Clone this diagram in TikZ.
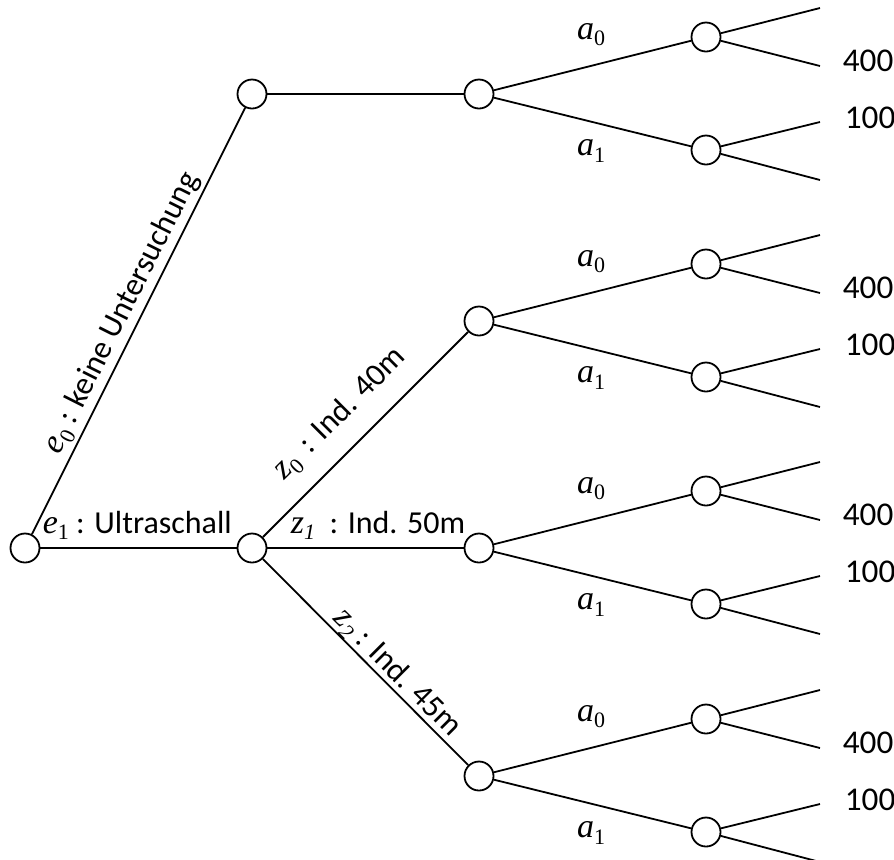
\documentclass[tikz,border=0pt]{standalone}
\usepackage{fontspec}
\setmainfont{Carlito}
\newfontfamily\tnr{Liberation Serif}
\newcommand{\ml}[2]{{\tnr\itshape\fontsize{17}{18}\selectfont #1}\raisebox{-0.4ex}{\tnr\fontsize{11}{11}\selectfont #2}}
\newcommand{\mli}[2]{{\tnr\itshape\fontsize{17}{18}\selectfont #1}\raisebox{-0.4ex}{\tnr\itshape\fontsize{11}{11}\selectfont #2}}
\begin{document}
\begin{tikzpicture}[x=0.5pt,y=-0.5pt,line width=0.9pt,
  circ/.style={circle,draw,minimum size=14.5pt,inner sep=0pt,fill=white},
  lbl/.style={inner sep=0pt,font=\fontsize{16}{18}\selectfont},
  val/.style={inner sep=0pt,anchor=west,font=\fontsize{16.6}{18}\selectfont}]
\useasboundingbox (0,0) rectangle (894,859);
\clip (0,0) rectangle (894,859);
% main nodes
\node[circ] (R) at (25,548) {};
\node[circ] (U) at (252,94) {};
\node[circ] (E) at (252,548) {};
\foreach \i/\y in {1/94,2/321,3/548,4/776} {
  \node[circ] (A\i) at (479,\y) {};
  \node[circ] (Ca\i) at (706,\y-57) {};
  \node[circ] (Cb\i) at (706,\y+56) {};
  \coordinate (Taa\i) at (820,\y-86);
  \coordinate (Tab\i) at (820,\y-28);
  \coordinate (Tba\i) at (820,\y+28);
  \coordinate (Tbb\i) at (820,\y+86);
  \draw (A\i) -- (Ca\i);
  \draw (A\i) -- (Cb\i);
  \draw (Ca\i) -- (Taa\i);
  \draw (Ca\i) -- (Tab\i);
  \draw (Cb\i) -- (Tba\i);
  \draw (Cb\i) -- (Tbb\i);
  \node[lbl] (la\i) at (591,\y-59) {\ml{a}{0}};
  \node[lbl] (lb\i) at (591,\y+57) {\ml{a}{1}};
  \node[val] (v4\i) at (842,\y-33) {400};
  \node[val] (v1\i) at (844,\y+24) {100};
}
\draw (R) -- (U);
\draw (R) -- (E);
\draw (U) -- (A1);
\draw (E) -- (A2);
\draw (E) -- (A3);
\draw (E) -- (A4);
% edge labels
\node[lbl,rotate=63.3] (le0) at (122,313) {\ml{e}{0} : keine Untersuchung};
\node[lbl,anchor=base west] (le1) at (42,533) {\ml{e}{1} : Ultraschall};
\node[lbl,rotate=45] (lz0) at (340,414) {\ml{z}{0}\, : Ind. 40m};
\node[lbl,anchor=base west] (lz1) at (290,533) {\mli{z}{1}\ \ : Ind. 50m};
\node[lbl,rotate=-45] (lz2) at (397,673) {\mli{z}{2} : Ind. 45m};
\end{tikzpicture}
\end{document}
